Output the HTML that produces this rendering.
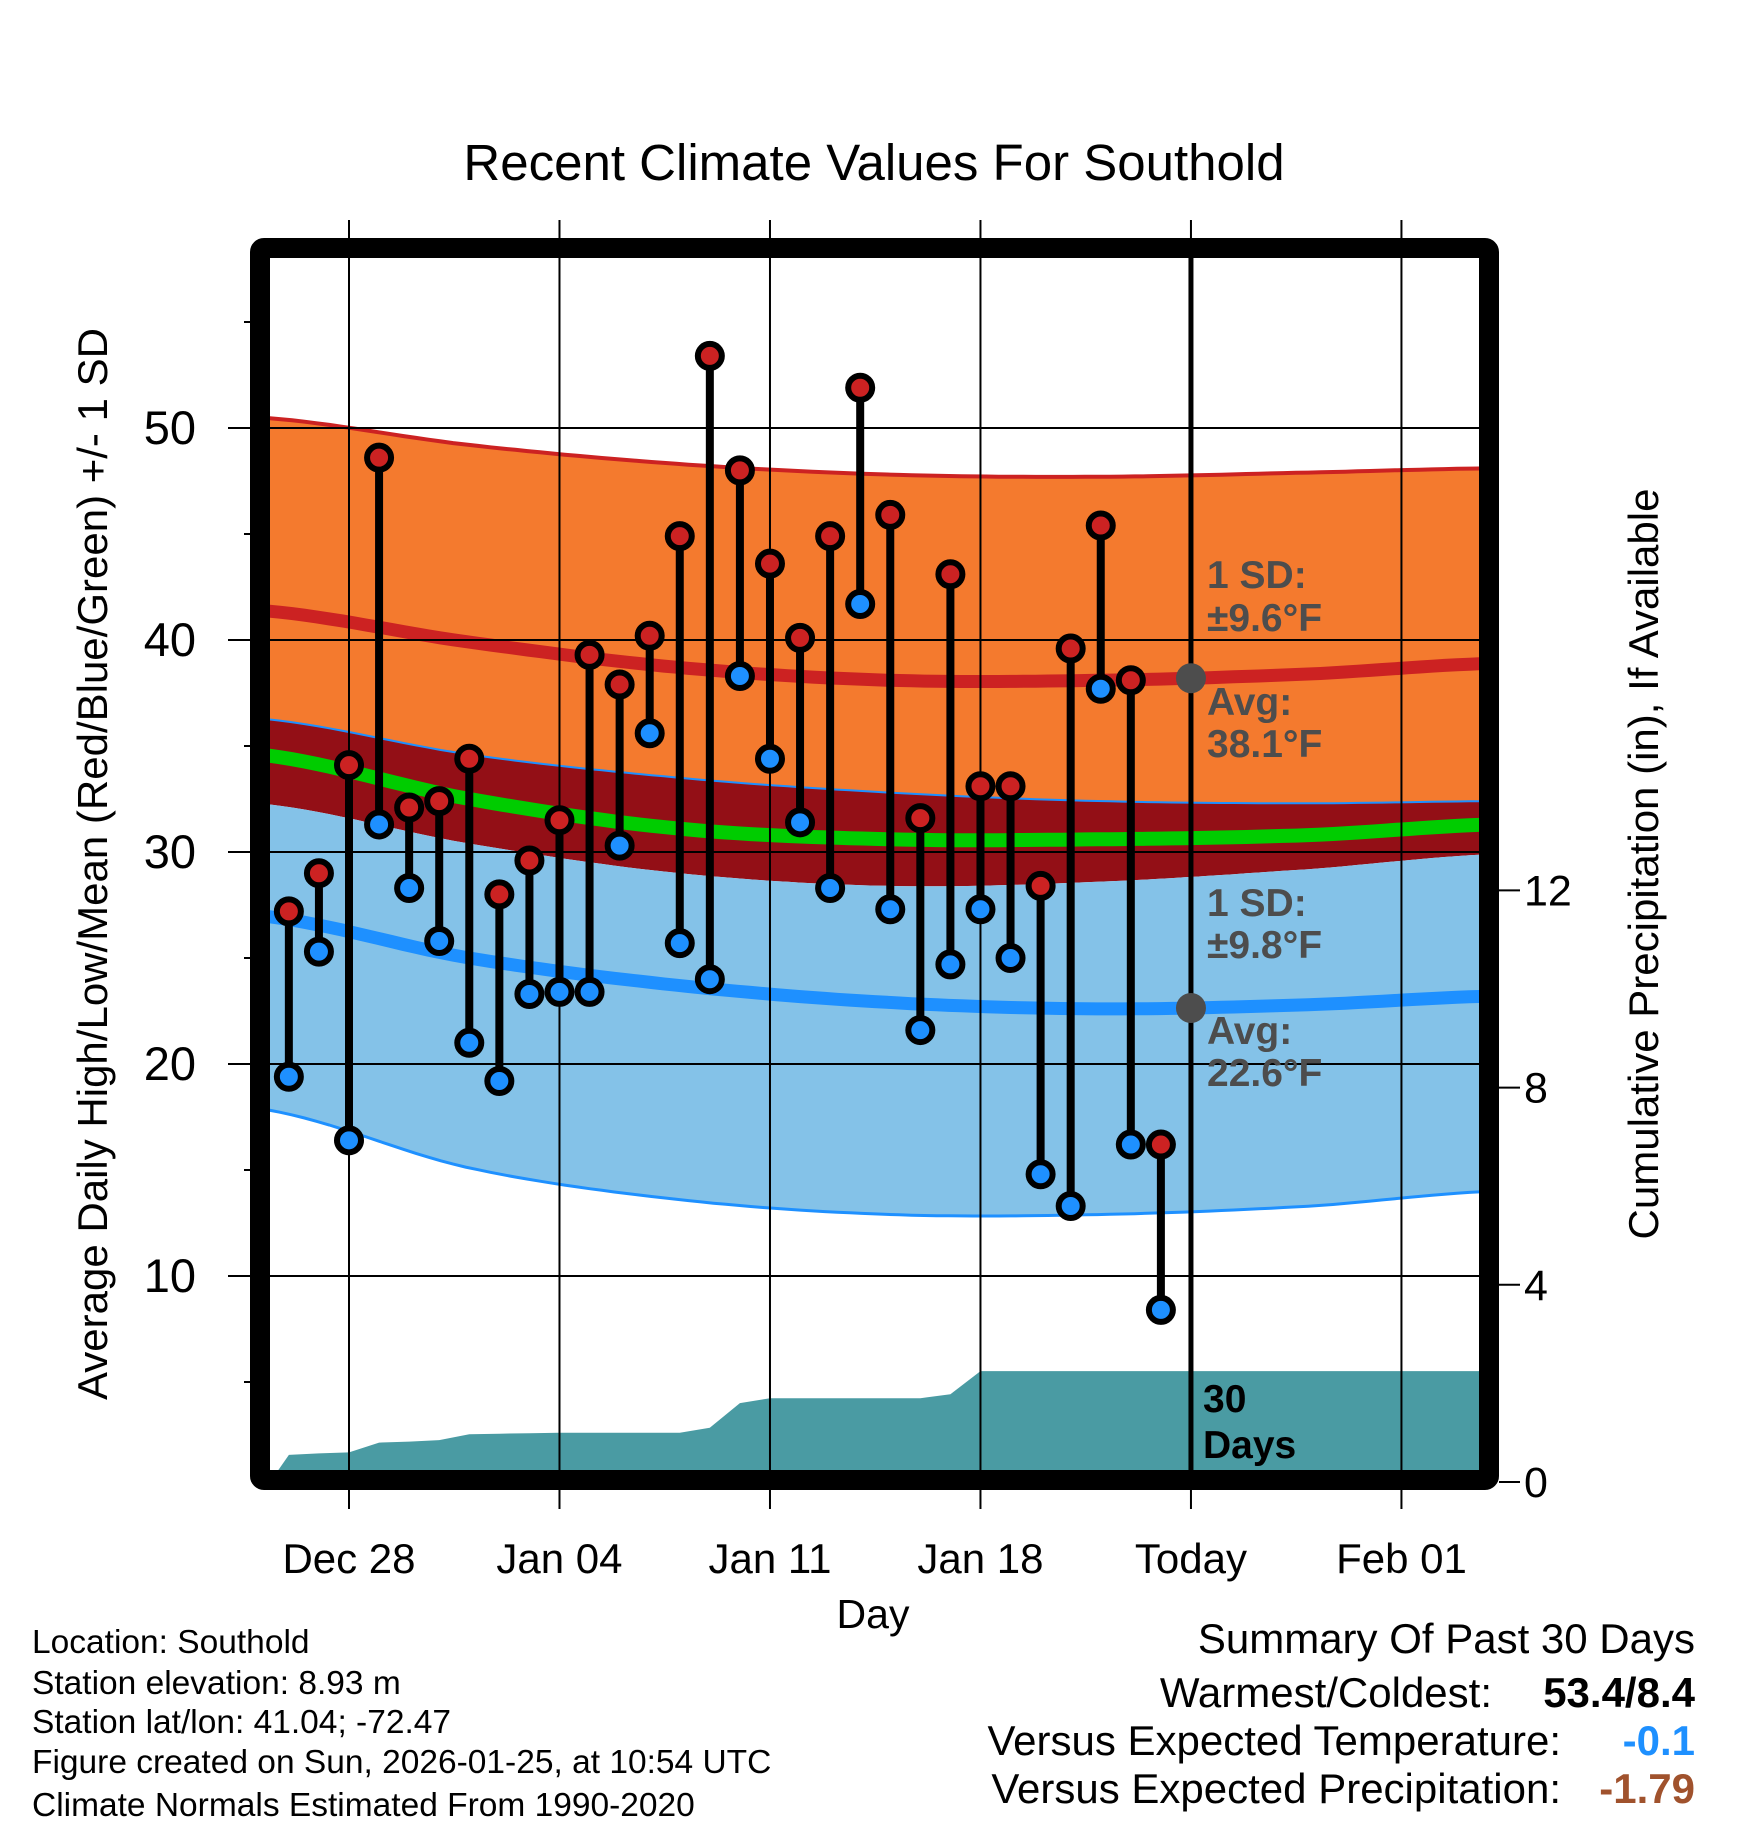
<!DOCTYPE html>
<html><head><meta charset="utf-8">
<style>
html,body{margin:0;padding:0;background:#fff;}
svg{display:block;font-family:"Liberation Sans",Arial,sans-serif;}
</style></head>
<body>
<svg id="chart" width="1748" height="1828" viewBox="0 0 1748 1828" xmlns="http://www.w3.org/2000/svg">
<text x="874" y="180" font-size="51" text-anchor="middle">Recent Climate Values For Southold</text>
<g id="plot"></g>
<text x="873" y="1628" font-size="41" text-anchor="middle">Day</text>
<text transform="translate(107,864) rotate(-90)" font-size="42" text-anchor="middle">Average Daily High/Low/Mean (Red/Blue/Green) +/- 1 SD</text>
<text transform="translate(1658,864) rotate(-90)" font-size="42" text-anchor="middle">Cumulative Precipitation (in), If Available</text>
<g font-size="33.5">
<text x="32" y="1653">Location: Southold</text>
<text x="32" y="1694">Station elevation: 8.93 m</text>
<text x="32" y="1733">Station lat/lon: 41.04; -72.47</text>
<text x="32" y="1773">Figure created on Sun, 2026-01-25, at 10:54 UTC</text>
<text x="32" y="1816">Climate Normals Estimated From 1990-2020</text>
</g>
<g font-size="42">
<text x="1695" y="1653" text-anchor="end">Summary Of Past 30 Days</text>
<text x="1492" y="1707" text-anchor="end">Warmest/Coldest:</text>
<text x="1695" y="1707" text-anchor="end" font-weight="bold">53.4/8.4</text>
<text x="1561" y="1755" text-anchor="end">Versus Expected Temperature:</text>
<text x="1695" y="1755" text-anchor="end" font-weight="bold" fill="#1e90ff">-0.1</text>
<text x="1561" y="1803" text-anchor="end">Versus Expected Precipitation:</text>
<text x="1695" y="1803" text-anchor="end" font-weight="bold" fill="#a0522d">-1.79</text>
</g>
</svg>
<script>
// day index: 0 = Dec 28
const days = [-2,-1,0,1,2,3,4,5,6,7,8,9,10,11,12,13,14,15,16,17,18,19,20,21,22,23,24,25,26,27];
const highs = [27.2,29.0,34.1,48.6,32.1,32.4,34.4,28.0,29.6,31.5,39.3,37.9,40.2,44.9,53.4,48.0,43.6,40.1,44.9,51.9,45.9,31.6,43.1,33.1,33.1,28.4,39.6,45.4,38.1,16.2];
const lows = [19.4,25.3,16.4,31.3,28.3,25.8,21.0,19.2,23.3,23.4,23.4,30.3,35.6,25.7,24.0,38.3,34.4,31.4,28.3,41.7,27.3,21.6,24.7,27.3,25.0,14.8,13.3,37.7,16.2,8.4];
const precip = [0.55,0.58,0.6,0.8,0.82,0.85,0.97,0.98,0.99,1.0,1.0,1.0,1.0,1.0,1.1,1.6,1.7,1.7,1.7,1.7,1.7,1.7,1.78,2.25,2.25,2.25,2.25,2.25,2.25,2.25];
const normDays = [-3,4,11,18,25,32,38];
const normHighUpper = [50.5,49.2,48.3,47.8,47.7,47.9,48.1];
const normHigh = [41.4,39.9,38.7,38.1,38.1,38.4,38.9];
const normHighLower = [36.3,34.6,33.5,32.8,32.4,32.3,32.4];
const normMean = [34.6,32.5,31.1,30.6,30.6,30.8,31.3];
const normLowUpper = [32.3,30.4,29.0,28.4,28.6,29.2,29.9];
const normLow = [27.0,25.0,23.7,22.9,22.6,22.8,23.2];
const normLowLower = [17.9,15.1,13.6,12.9,12.9,13.3,14.0];
const xTickDays = [0,7,14,21,28,35];
const xTickLabels = ["Dec 28","Jan 04","Jan 11","Jan 18","Today","Feb 01"];
const yTicks = [10,20,30,40,50];
const y2Ticks = [0,4,8,12];
const todayDay = 28;

const NS="http://www.w3.org/2000/svg";
const L=270,R=1479,T=258,B=1472;
const xS=d=>349+d*30.07;
const yS=v=>428+(50-v)*21.2;
const pS=v=>1482-v*49.3;
const plot=document.getElementById('plot');
function mk(tag,attrs,parent){const e=document.createElementNS(NS,tag);for(const k in attrs)e.setAttribute(k,attrs[k]);(parent||plot).appendChild(e);return e;}
const defs=mk('defs',{});
const cp=mk('clipPath',{id:'clip'},defs);
mk('rect',{x:L,y:T,width:R-L,height:B-T},cp);
const g=mk('g',{'clip-path':'url(#clip)'});
const xs0=(L-349)/30.07, xs1=(R-349)/30.07;
function interp(arr,d){
  const n=normDays.length;
  let i=0;while(i<n-2&&d>normDays[i+1])i++;
  const t=(d-normDays[i])/(normDays[i+1]-normDays[i]);
  const p0=arr[Math.max(i-1,0)],p1=arr[i],p2=arr[i+1],p3=arr[Math.min(i+2,n-1)];
  const t2=t*t,t3=t2*t;
  return 0.5*((2*p1)+(-p0+p2)*t+(2*p0-5*p1+4*p2-p3)*t2+(-p0+3*p1-3*p2+p3)*t3);
}
function curve(arr){const pts=[];for(let k=0;k<=100;k++){const d=xs0-0.5+(xs1-xs0+1)*k/100;pts.push([xS(d),yS(interp(arr,d))]);}return pts;}
function band(a,b){const p1=curve(a),p2=curve(b).reverse();return 'M'+p1.concat(p2).map(p=>p[0].toFixed(1)+','+p[1].toFixed(1)).join('L')+'Z';}
function line(a){return 'M'+curve(a).map(p=>p[0].toFixed(1)+','+p[1].toFixed(1)).join('L');}
let e;
e=mk('path',{d:band(normHighUpper,normHighLower),fill:'#f47a2e'},g);


e=mk('path',{d:band(normHighLower,normLowUpper),fill:'#930f16'},g);


e=mk('path',{d:band(normLowUpper,normLowLower),fill:'#84c2e8'},g);


e=mk('path',{d:line(normHighUpper),fill:'none',stroke:'#cc2222','stroke-width':4},g);


e=mk('path',{d:line(normHighLower),fill:'none',stroke:'#1e90ff','stroke-width':2},g);


e=mk('path',{d:line(normLowLower),fill:'none',stroke:'#1e90ff','stroke-width':3},g);


e=mk('path',{d:line(normMean),fill:'none',stroke:'#00cc00','stroke-width':14},g);


e=mk('path',{d:line(normHigh),fill:'none',stroke:'#cc2222','stroke-width':13},g);


e=mk('path',{d:line(normLow),fill:'none',stroke:'#1e90ff','stroke-width':13},g);


// precipitation
let pd='M'+L+','+pS(0);
days.forEach((d,i)=>{pd+='L'+xS(d).toFixed(1)+','+pS(precip[i]).toFixed(1);});
pd+='L'+R+','+pS(precip[precip.length-1]).toFixed(1)+'L'+R+','+B+'L'+L+','+B+'Z';
e=mk('path',{d:pd,fill:'#4a9ba3'},g);


// grid
yTicks.forEach(v=>{
  e=mk('line',{x1:228,x2:R,y1:yS(v),y2:yS(v),stroke:'#000','stroke-width':2});
  
  
  e=mk('text',{x:196,y:yS(v)+16,'font-size':47,'text-anchor':'end'});
  e.textContent=v;
  
  
});
for(let v=5;v<=55;v+=10){
  e=mk('line',{x1:244,x2:L,y1:yS(v),y2:yS(v),stroke:'#000','stroke-width':2});
  
  
}
xTickDays.forEach((d,i)=>{
  e=mk('line',{x1:xS(d),x2:xS(d),y1:220,y2:1509,stroke:'#000','stroke-width':2});
  
  
  e=mk('text',{x:xS(d),y:1573,'font-size':42,'text-anchor':'middle'});
  e.textContent=xTickLabels[i];
  
  
});
y2Ticks.forEach(v=>{
  e=mk('line',{x1:1499,x2:1520,y1:pS(v),y2:pS(v),stroke:'#000','stroke-width':2});
  
  
  e=mk('text',{x:1524,y:pS(v)+15,'font-size':43});
  e.textContent=v;
  
  
});
// today line
e=mk('line',{x1:xS(todayDay),x2:xS(todayDay),y1:T,y2:B,stroke:'#000','stroke-width':5});


// stems and dots
days.forEach((d,i)=>{
  e=mk('line',{x1:xS(d),x2:xS(d),y1:yS(highs[i]),y2:yS(lows[i]),stroke:'#000','stroke-width':8});
  
  
});
days.forEach((d,i)=>{
  e=mk('circle',{cx:xS(d),cy:yS(lows[i]),r:12,fill:'#1e90ff',stroke:'#000','stroke-width':6});
  
  
  e=mk('circle',{cx:xS(d),cy:yS(highs[i]),r:12,fill:'#cc2222',stroke:'#000','stroke-width':6});
  
  
});
// avg markers
[[normHigh,'avg-high-marker'],[normLow,'avg-low-marker']].forEach(a=>{
  e=mk('circle',{cx:xS(todayDay),cy:yS(interp(a[0],todayDay)),r:15,fill:'#4d4d4d'});
  
  
});
// annotations
const ann=[["1 SD:",588],["±9.6°F",631],["Avg:",715],["38.1°F",757],["1 SD:",916],["±9.8°F",958],["Avg:",1044],["22.6°F",1086]];
ann.forEach(a=>{
  e=mk('text',{x:1207,y:a[1],'font-size':39,'font-weight':'bold',fill:'#4d4d4d'});
  e.textContent=a[0];
  
  
});
e=mk('text',{x:1203,y:1412,'font-size':39,'font-weight':'bold'});
e.textContent='30';


e=mk('text',{x:1203,y:1458,'font-size':39,'font-weight':'bold'});
e.textContent='Days';


// frame
e=mk('rect',{x:260,y:248,width:1229,height:1232,fill:'none',stroke:'#000','stroke-width':20,rx:4});


</script>
</body></html>
